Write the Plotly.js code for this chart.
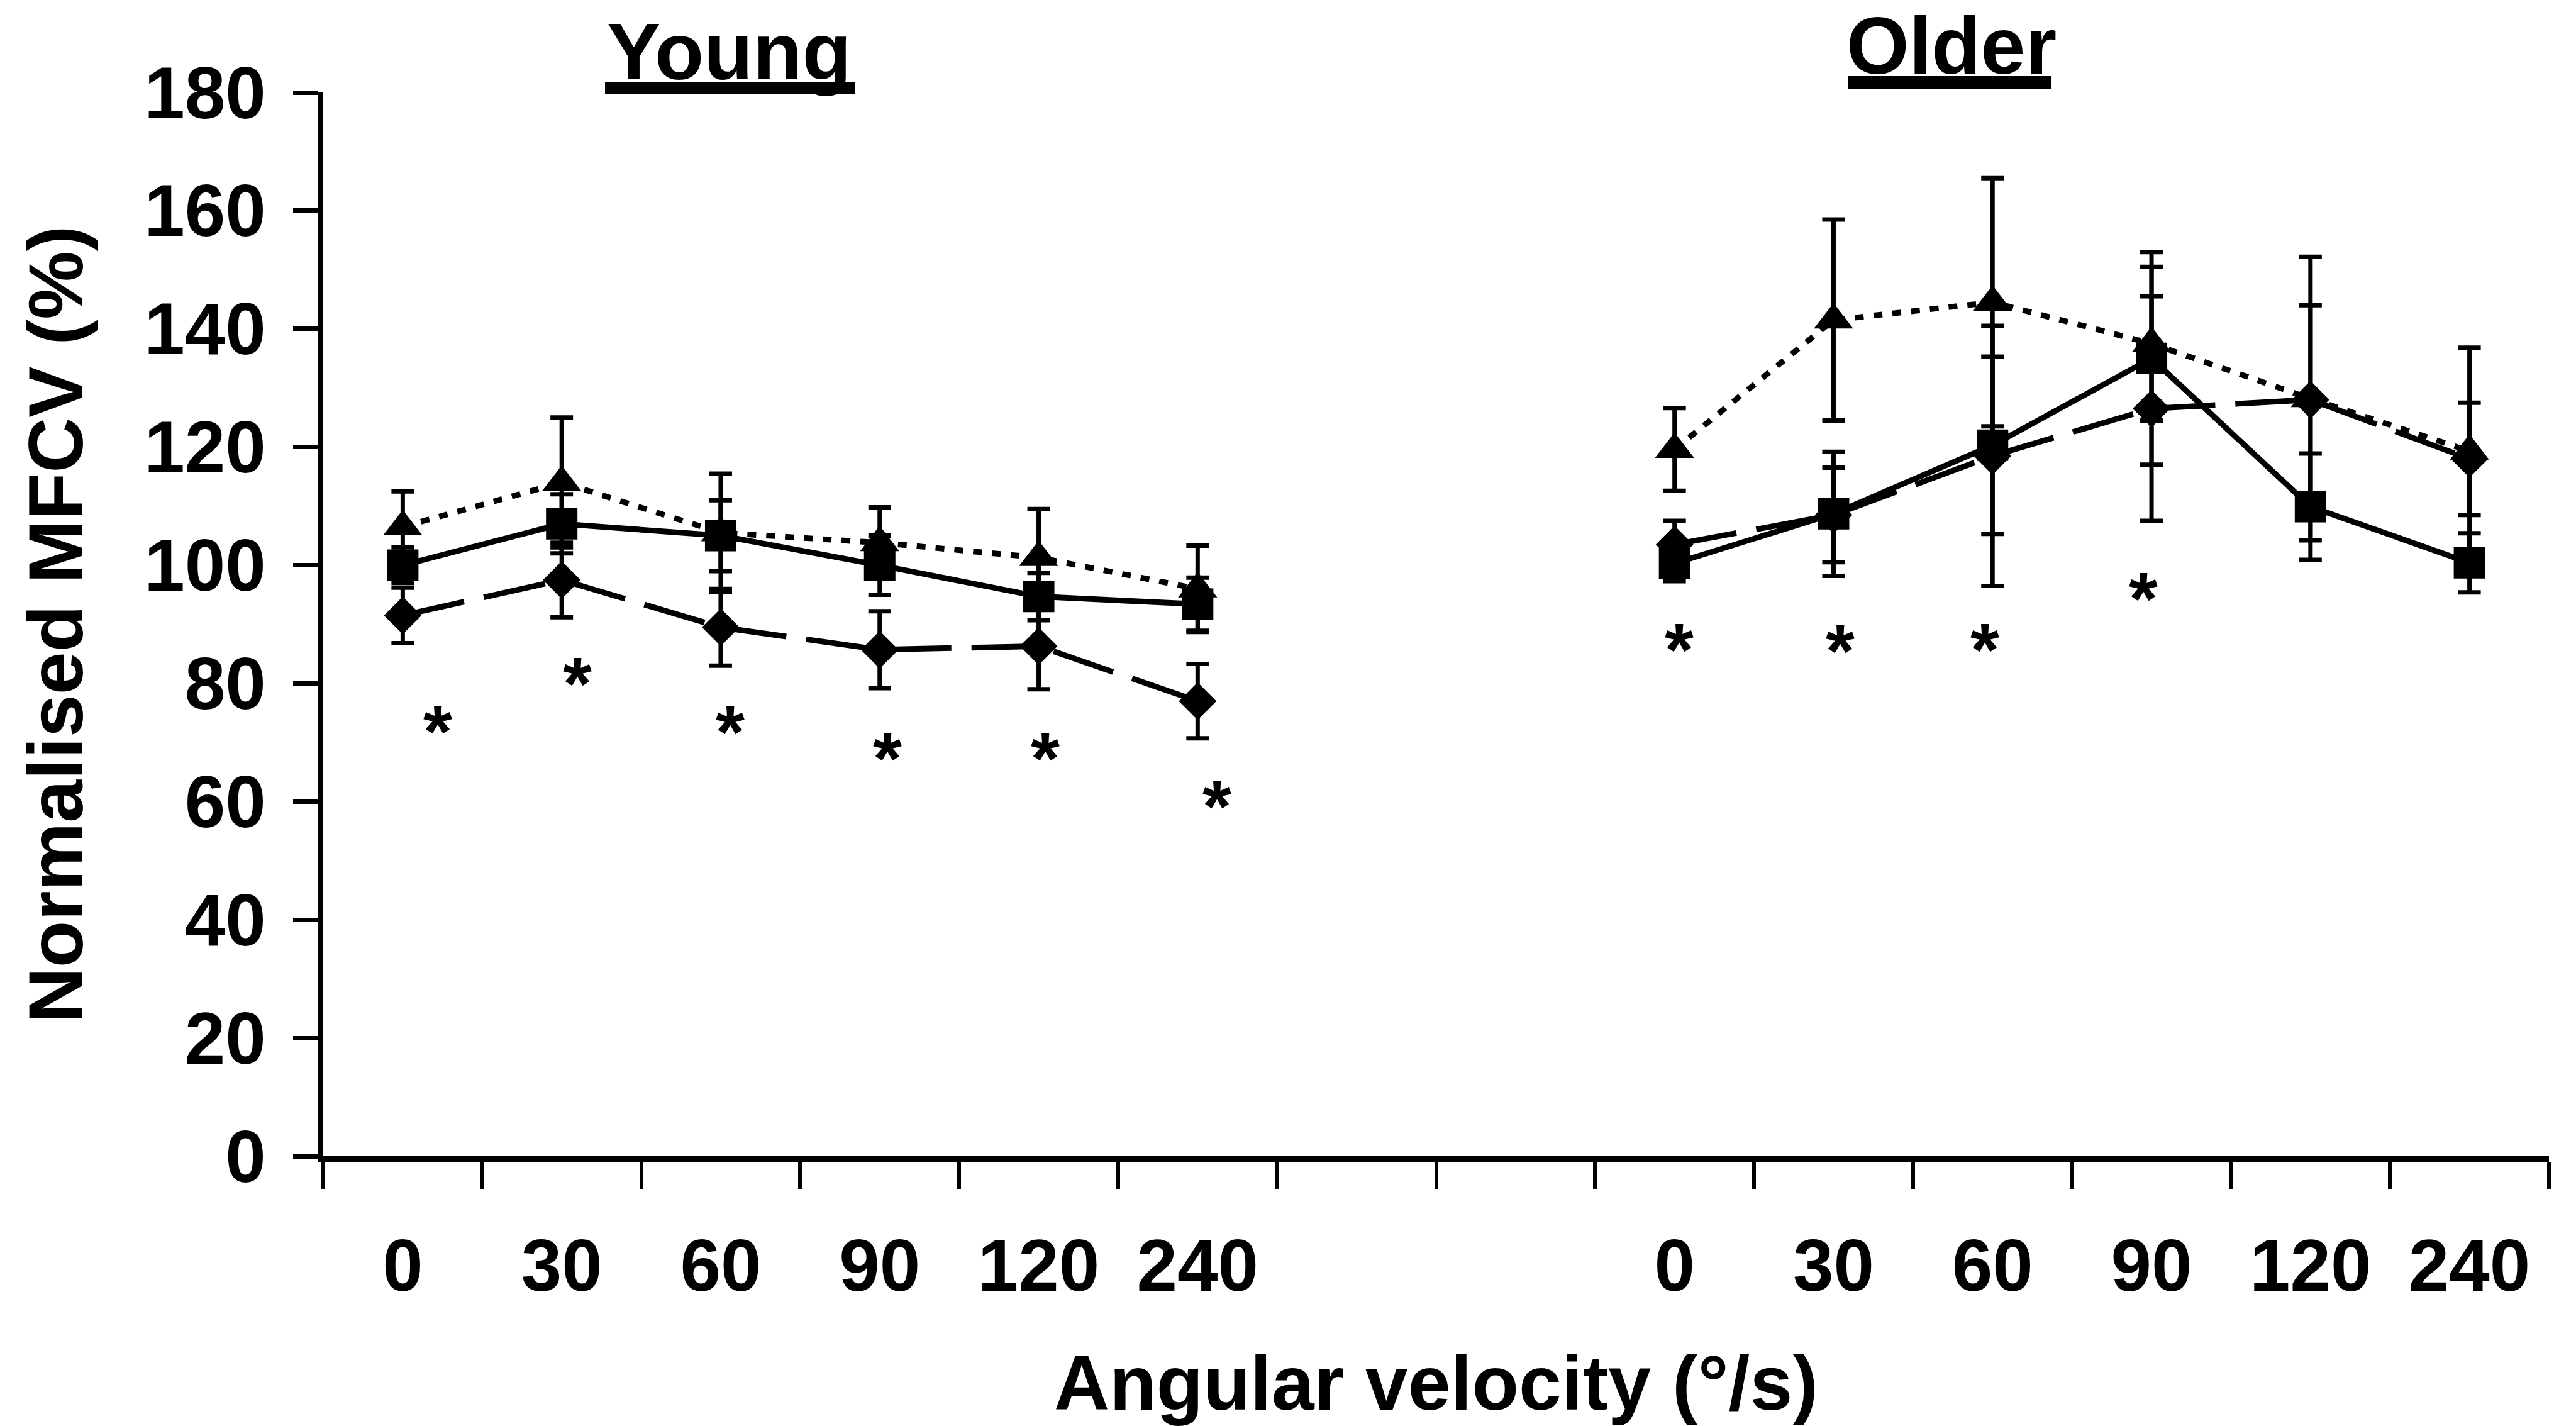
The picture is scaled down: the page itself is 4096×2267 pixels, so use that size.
<!DOCTYPE html>
<html>
<head>
<meta charset="utf-8">
<script src="https://cdn.plot.ly/plotly-3.0.1.min.js"></script>
<style>
  html, body { margin: 0; padding: 0; background: #ffffff; }
  #chart { width: 4096px; height: 2267px; }
</style>
</head>
<body>
<div id="chart"></div>
<script>
// ---- data ----
const categories = ['0', '30', '60', '90', '120', '240'];

const youngSquare      = [100, 107, 105, 100, 94.7, 93.4];
const youngSquareErr   = [3, 5, 6, 5, 4, 4.5];
const youngTriangle    = [106.5, 114, 105.5, 103.8, 101.3, 96];
const youngTriangleErr = [6, 11, 10, 6, 8.2, 7.3];
const youngDiamond     = [91.5, 97.5, 89.5, 85.7, 86.3, 77];
const youngDiamondErr  = [4.7, 6.3, 6.5, 6.5, 7.3, 6.3];

const olderSquare      = [100.3, 108.7, 120.3, 135, 109.9, 100.4];
const olderSquareErr   = [3, 10.5, 15, 18, 9, 5];
const olderTriangle    = [119.6, 141.5, 144.5, 137.5, 128.2, 119.3];
const olderTriangleErr = [7, 17, 21, 13, 24, 17.5];
const olderDiamond     = [103.5, 108.5, 118.5, 126.5, 128, 118];
const olderDiamondErr  = [4, 8, 22, 19, 16, 9.5];

// significance asterisks (x in category units, y in %)
const sigYoungX = [0.22, 1.1, 2.06, 3.05, 4.04, 5.12];
const sigYoungY = [74.5, 82.6, 74.4, 69.9, 69.9, 61.8];
const sigOlderX = [8.03, 9.04, 9.95, 10.95];
const sigOlderY = [88.3, 88.1, 88.4, 97.0];

const groupTitles = ['Young', 'Older'];
const yTitle = 'Normalised MFCV (%)';
const xTitle = 'Angular velocity (°/s)';

// ---- layout helpers ----
const OLDER_OFFSET = 8;                       // two empty slots between groups
const youngX = categories.map((c, i) => i);
const olderX = categories.map((c, i) => i + OLDER_OFFSET);
const nSlots = OLDER_OFFSET + categories.length;   // 14
const boundaries = [];
for (let i = 0; i <= nSlots; i++) boundaries.push(i - 0.5);

const FONT = 'Liberation Sans, Arial, Helvetica, sans-serif';

function series(x, y, err, symbol, size, dash, width) {
  return {
    type: 'scatter', mode: 'lines+markers', x: x, y: y,
    line: { color: '#000', width: width, dash: dash },
    marker: { symbol: symbol, size: size, color: '#000', line: { width: 0 } },
    error_y: { type: 'data', array: err, visible: true, color: '#000', thickness: 7, width: 18 },
    showlegend: false, hoverinfo: 'skip'
  };
}

const DOT = '14px,16px';
const DASH = '100px,32px';

const traces = [
  series(youngX, youngTriangle, youngTriangleErr, 'triangle-up', 54, DOT, 9),
  series(youngX, youngSquare, youngSquareErr, 'square', 50, 'solid', 9),
  series(youngX, youngDiamond, youngDiamondErr, 'diamond', 46, DASH, 9),
  series(olderX, olderTriangle, olderTriangleErr, 'triangle-up', 54, DOT, 9),
  series(olderX, olderSquare, olderSquareErr, 'square', 50, 'solid', 9),
  series(olderX, olderDiamond, olderDiamondErr, 'diamond', 46, DASH, 9)
];

const annotations = [];
sigYoungX.concat(sigOlderX).forEach((x, i) => {
  const y = sigYoungY.concat(sigOlderY)[i];
  annotations.push({
    x: x, y: y, xref: 'x', yref: 'y', text: '*', showarrow: false,
    yshift: -25, font: { family: FONT, size: 118, color: '#000', weight: 'bold' }
  });
});
annotations.push({
  xref: 'paper', yref: 'paper', x: 0.1825, y: 1.039, text: groupTitles[0],
  showarrow: false, xanchor: 'center', yanchor: 'middle',
  font: { family: FONT, size: 128, color: '#000', weight: 'bold' }
});
annotations.push({
  xref: 'paper', yref: 'paper', x: 0.7316, y: 1.0443, text: groupTitles[1],
  showarrow: false, xanchor: 'center', yanchor: 'middle',
  font: { family: FONT, size: 128, color: '#000', weight: 'bold' }
});

const shapes = [
  { type: 'line', xref: 'paper', yref: 'paper', x0: 0.1266, x1: 0.2388, y0: 1.0041, y1: 1.0041,
    line: { color: '#000', width: 20 } },
  { type: 'line', xref: 'paper', yref: 'paper', x0: 0.685, x1: 0.7765, y0: 1.0095, y1: 1.0095,
    line: { color: '#000', width: 20 } }
];

const layout = {
  width: 4096, height: 2267,
  paper_bgcolor: '#fff', plot_bgcolor: '#fff',
  margin: { l: 514, r: 43, t: 147, b: 429 },
  font: { family: FONT, color: '#000' },
  showlegend: false,
  xaxis: {
    type: 'linear', range: [-0.5, nSlots - 0.5],
    tickvals: youngX.concat(olderX),
    ticktext: categories.concat(categories),
    ticks: '', ticklabelstandoff: 66,
    tickfont: { family: FONT, size: 116, color: '#000', weight: 'bold' },
    minor: { tickvals: boundaries, ticks: 'outside', ticklen: 43, tickwidth: 6, tickcolor: '#000', showgrid: false },
    showline: true, linecolor: '#000', linewidth: 9,
    showgrid: false, zeroline: false,
    title: { text: xTitle, standoff: 98, font: { family: FONT, size: 122, color: '#000', weight: 'bold' } }
  },
  yaxis: {
    range: [0, 180], dtick: 20, tick0: 0,
    ticks: 'outside', ticklen: 39, tickwidth: 7, tickcolor: '#000',
    tickfont: { family: FONT, size: 116, color: '#000', weight: 'bold' },
    ticklabelstandoff: 20,
    showline: true, linecolor: '#000', linewidth: 9,
    showgrid: false, zeroline: false,
    title: { text: yTitle, standoff: 60, font: { family: FONT, size: 122, color: '#000', weight: 'bold' } }
  },
  annotations: annotations,
  shapes: shapes
};

Plotly.newPlot('chart', traces, layout, { displayModeBar: false, staticPlot: true });
</script>
</body>
</html>
